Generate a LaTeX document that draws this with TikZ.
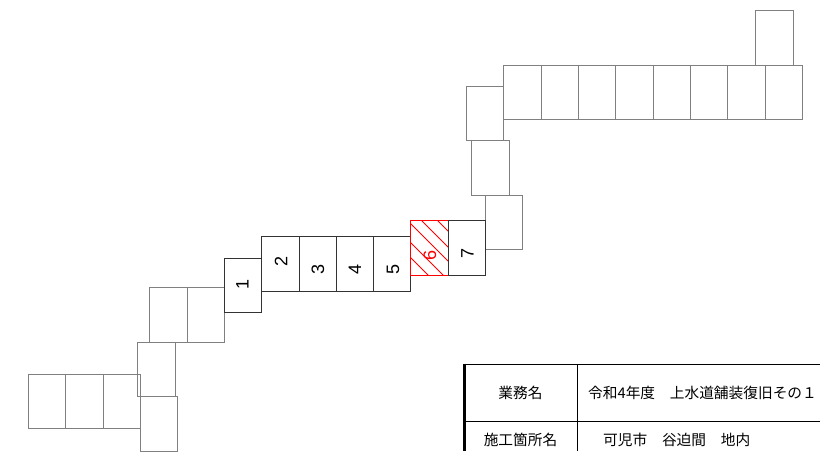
\documentclass[tikz,border=0pt]{standalone}
\usepackage{fontspec}
\setmainfont{Liberation Sans}
\newfontfamily\jpfont{Noto Sans CJK JP}
\tikzset{
  x=1pt,y=-1pt,
  ghost/.style={draw=black!50,line width=1pt},
  cell/.style={draw=black!80,line width=1pt},
  redcell/.style={draw=red,line width=1pt},
  hatch/.style={draw=red,line width=0.9pt},
  digit/.style={font=\fontsize{18}{18}\selectfont,rotate=90,inner sep=0pt},
  tline/.style={draw=black,line width=0.9pt},
  tthick/.style={draw=black,line width=2.8pt},
  ttext/.style={font=\jpfont\fontsize{14.7}{14.7}\selectfont,inner sep=0pt},
}
\newcommand{\gbox}[4]{\draw[ghost] (#1,#2) rectangle (#3,#4);}
\begin{document}
\begin{tikzpicture}
\useasboundingbox (0,0) rectangle (820,451);
% grey sections, upper right
\foreach \a/\b in {503.5/541,541/578.5,578.5/615.5,615.5/653,653/690.5,690.5/727.5,727.5/765,765/802.5}
  {\gbox{\a}{65.5}{\b}{119.7}}
\gbox{755.7}{10.7}{793.3}{65.5}
\gbox{466.5}{86}{503.5}{140.7}
\gbox{471.7}{140.7}{509.3}{195}
\gbox{485.7}{195}{522.7}{249.5}
% grey sections, lower left
\gbox{149.5}{287.3}{187}{342}
\gbox{187}{287.3}{224.5}{342}
\gbox{137.7}{342}{175.3}{396.5}
\gbox{28.3}{374.3}{65.7}{428.7}
\gbox{65.7}{374.3}{103}{428.7}
\gbox{103}{374.3}{140.5}{428.7}
\gbox{140}{396.5}{177.5}{451}
% numbered sections
\draw[cell] (224,258) rectangle (261.5,312);
\draw[cell] (261.5,236.7) rectangle (299,291.3);
\draw[cell] (299,236.7) rectangle (336,291.3);
\draw[cell] (336,236.7) rectangle (373,291.3);
\draw[cell] (373,236.7) rectangle (410.5,291.3);
\begin{scope}
\clip (410.5,220.5) rectangle (448.5,275);
\foreach \d in {-37,-22,-3,11,27}
  {\draw[hatch] (410.5+\d,220.5) -- ++(60,60);}
\end{scope}
\draw[redcell] (410.5,220.5) rectangle (448.5,275);
\draw[cell] (448.5,220.5) rectangle (485.5,275);
\node[digit] (n1) at (242.5,284) {1};
\node[digit] (n2) at (281,261.5) {2};
\node[digit] (n3) at (318,269) {3};
\node[digit] (n4) at (355,269) {4};
\node[digit] (n5) at (393,269) {5};
\node[digit,text=red] (n6) at (430,255) {6};
\node[digit] (n7) at (467.5,253) {7};
% title table
\draw[tthick] (464.7,363.5) -- (464.7,451);
\draw[tline] (464,364) -- (820,364);
\draw[tline] (464,421) -- (820,421);
\draw[tline] (577.7,364) -- (577.7,451);
\node[ttext] (t1) at (520.5,392.5) {業務名};
\node[ttext] (t2) at (520.5,439.5) {施工箇所名};
\node[ttext,anchor=west] (t3) at (588,392.5) {令和4年度　上水道舗装復旧その１};
\node[ttext,anchor=west] (t4) at (603,439.5) {可児市　谷迫間　地内};
\end{tikzpicture}
\end{document}
